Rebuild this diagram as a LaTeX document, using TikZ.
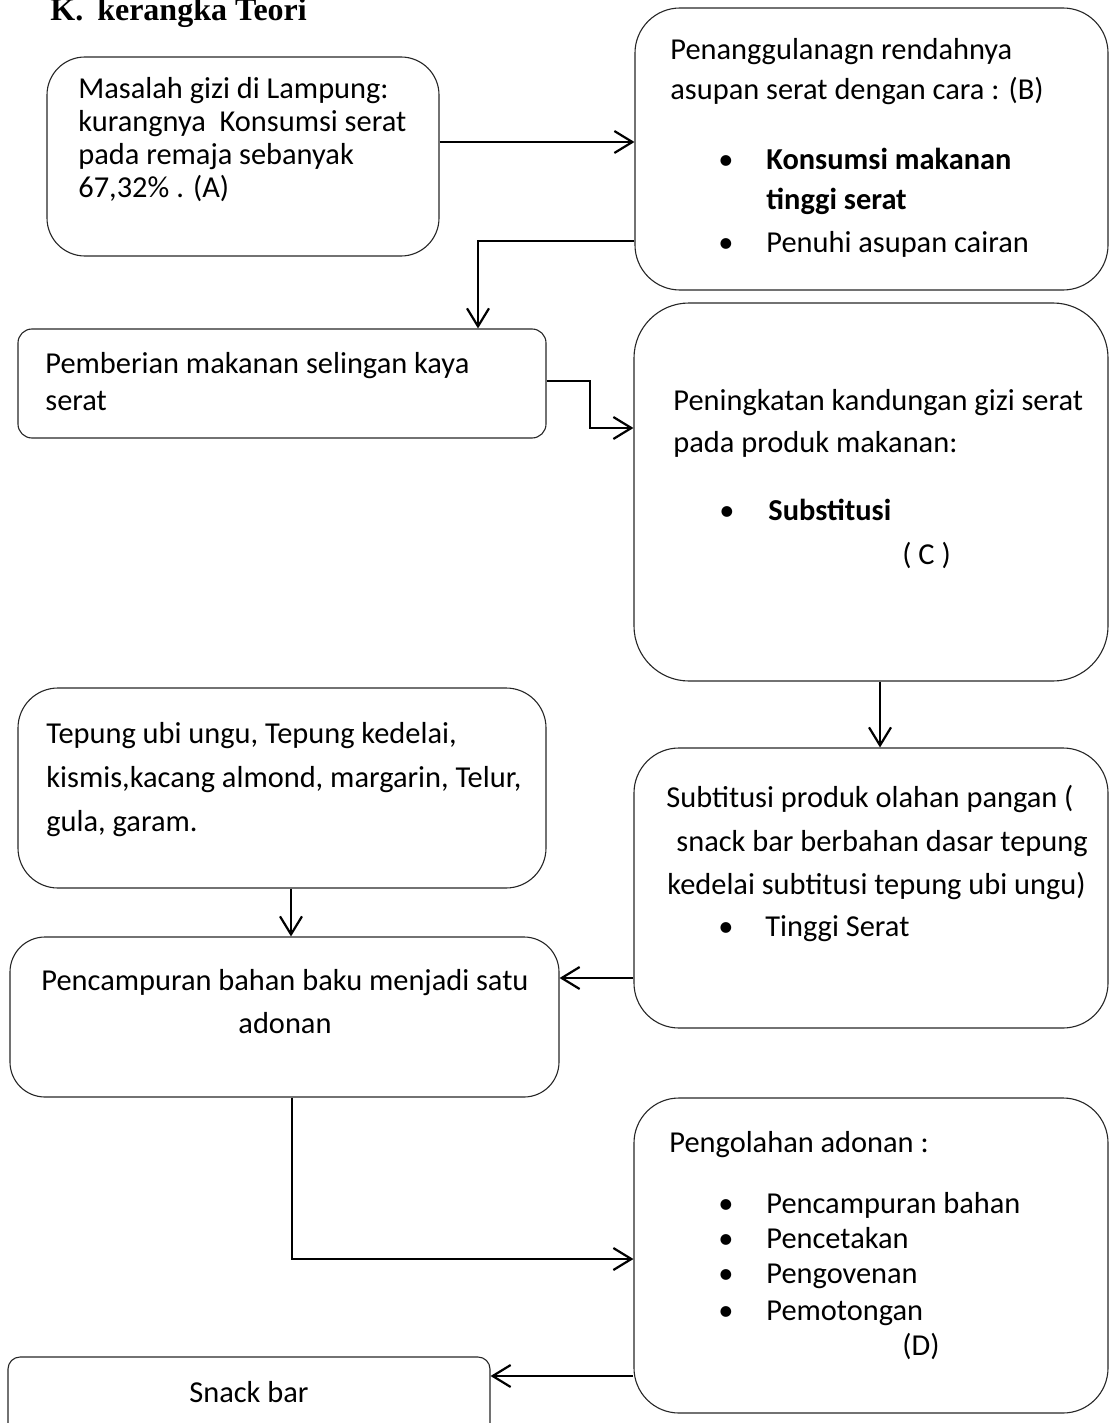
\documentclass[tikz,border=0pt]{standalone}
\usepackage{fontspec}
\setmainfont{Carlito}
\newfontfamily\headfont{Liberation Serif}
\usetikzlibrary{arrows.meta}

\tikzset{
    box/.style={draw=black!85, line width=0.55pt, inner sep=0pt},
    arr/.style={line width=1.1pt, -{Straight Barb[length=9pt,width=11pt]}},
    txt/.style={anchor=base west, inner sep=0pt, font=\fontsize{15.2}{18}\selectfont},
    txtb/.style={txt, font=\fontsize{15.2}{18}\selectfont\bfseries},
    txtc/.style={txt, anchor=base},
    dot/.style={anchor=base, inner sep=0pt, font=\fontsize{15.2}{18}\selectfont},
}

\begin{document}
\begin{tikzpicture}[x=0.5pt, y=-0.5pt]
    \useasboundingbox (0,0) rectangle (1109,1423);

    \node[anchor=base west, inner sep=0pt, font=\headfont\fontsize{16}{19}\selectfont\bfseries] (judul) at (50,21) {K.\hspace{7pt}kerangka Teori};

    % kotak-kotak
    \node[box, minimum width=196pt, minimum height=99.5pt, rounded corners=19pt] (A) at (243,156.5) {};
    \node[box, minimum width=236.5pt, minimum height=141pt, rounded corners=22.5pt] (B) at (871.5,149) {};
    \node[box, minimum width=264pt, minimum height=54.5pt, rounded corners=7pt] (E) at (282,383.5) {};
    \node[box, minimum width=237pt, minimum height=189pt, rounded corners=27.5pt] (C) at (871,492) {};
    \node[box, minimum width=264pt, minimum height=100pt, rounded corners=20pt] (G) at (282,788) {};
    \node[box, minimum width=237pt, minimum height=140pt, rounded corners=22.5pt] (F) at (871,888) {};
    \node[box, minimum width=274.5pt, minimum height=80pt, rounded corners=17.5pt] (H) at (284.5,1017) {};
    \node[box, minimum width=237pt, minimum height=157.5pt, rounded corners=22.5pt] (D) at (871,1255.5) {};
    \node[box, minimum width=241pt, minimum height=44pt, rounded corners=6pt] (I) at (249,1401) {};

    % isi A
    \node[txt] (a1) at (78,99) {Masalah gizi di Lampung:};
    \node[txt] (a2) at (78,132) {kurangnya~ Konsumsi serat};
    \node[txt] (a3) at (78,165) {pada remaja sebanyak};
    \node[txt] (a4) at (78,198) {67,32\% . (A)};

    % isi B
    \node[txt] (b1) at (670,60) {Penanggulanagn rendahnya};
    \node[txt] (b2) at (670,100) {asupan serat dengan cara : (B)};
    \node[dot] (b3) at (726,170) {•};
    \node[txtb] (b4) at (766,170) {Konsumsi makanan};
    \node[txtb] (b5) at (766,210) {tinggi serat};
    \node[dot] (b6) at (726,253) {•};
    \node[txt] (b7) at (766,253) {Penuhi asupan cairan};

    % isi E
    \node[txt] (e1) at (45,373) {Pemberian makanan selingan kaya};
    \node[txt] (e2) at (45,410) {serat};

    % isi C
    \node[txt] (c1) at (673,410) {Peningkatan kandungan gizi serat};
    \node[txt] (c2) at (673,452) {pada produk makanan:};
    \node[dot] (c3) at (727,520) {•};
    \node[txtb] (c4) at (768,520) {Substitusi};
    \node[txt] (c5) at (902,564) {( C )};

    % isi G
    \node[txt] (g1) at (46,743) {Tepung ubi ungu, Tepung kedelai,};
    \node[txt] (g2) at (46,787) {kismis,kacang almond, margarin, Telur,};
    \node[txt] (g3) at (46,831) {gula, garam.};

    % isi F
    \node[txt] (f1) at (666,807) {Subtitusi produk olahan pangan (};
    \node[txt] (f2) at (676,851) {snack bar berbahan dasar tepung};
    \node[txt] (f3) at (667,894) {kedelai subtitusi tepung ubi ungu)};
    \node[dot] (f4) at (726,936) {•};
    \node[txt] (f5) at (765,936) {Tinggi Serat};

    % isi H
    \node[txtc] (h1) at (285,990) {Pencampuran bahan baku menjadi satu};
    \node[txtc] (h2) at (285,1033) {adonan};

    % isi D
    \node[txt] (d1) at (669,1152) {Pengolahan adonan :};
    \node[dot] (d2) at (726,1213) {•};
    \node[txt] (d3) at (766,1213) {Pencampuran bahan};
    \node[dot] (d4) at (726,1248) {•};
    \node[txt] (d5) at (766,1248) {Pencetakan};
    \node[dot] (d6) at (726,1283) {•};
    \node[txt] (d7) at (766,1283) {Pengovenan};
    \node[dot] (d8) at (726,1320) {•};
    \node[txt] (d9) at (766,1320) {Pemotongan};
    \node[txt] (d10) at (902,1355) {(D)};

    % isi I
    \node[txtc] (i1) at (249,1402) {Snack bar};

    % titik belok
    \coordinate (ab) at (0,142);
    \coordinate (be) at (478,241);
    \coordinate (ec1) at (590,381);
    \coordinate (ec2) at (590,428);
    \coordinate (cf) at (880,0);
    \coordinate (gh) at (291,0);
    \coordinate (fh) at (0,978);
    \coordinate (hd) at (292,1259);
    \coordinate (di) at (0,1376);

    % panah
    \draw[arr] (A.east |- ab) -- (B.west |- ab);
    \draw[arr] (B.west |- be) -| (E.north -| be);
    \draw[arr] (E.east |- ec1) -- (ec1) -- (ec2) -- (C.west |- ec2);
    \draw[arr] (C.south -| cf) -- (F.north -| cf);
    \draw[arr] (G.south -| gh) -- (H.north -| gh);
    \draw[arr] (F.west |- fh) -- (H.east |- fh);
    \draw[arr] (H.south -| hd) |- (D.west |- hd);
    \draw[arr] (D.west |- di) -- (I.east |- di);
\end{tikzpicture}
\end{document}
